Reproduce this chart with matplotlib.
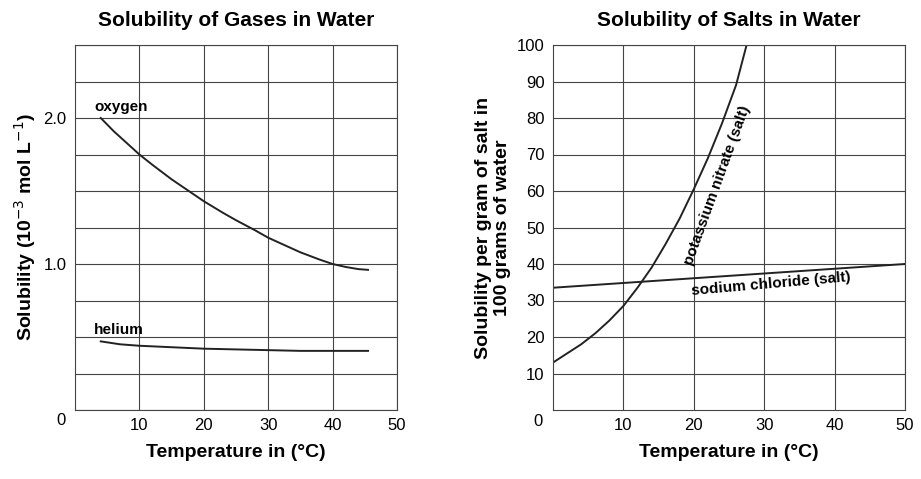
import numpy as np
import matplotlib
matplotlib.use("Agg")
import matplotlib.pyplot as plt

plt.rcParams['font.family'] = ['Liberation Sans', 'DejaVu Sans']

# gases (10^-3 mol/L)
gas_temp = [4, 6, 8, 10, 12, 15, 18, 20, 23, 25, 28, 30, 33, 35, 38, 40, 42, 44, 45.5]
oxygen = [2.0, 1.91, 1.83, 1.75, 1.68, 1.58, 1.49, 1.43, 1.35, 1.30, 1.23, 1.18, 1.12, 1.08, 1.03, 1.00, 0.98, 0.965, 0.96]
helium_temp = [4, 7, 10, 15, 20, 25, 30, 35, 40, 45.5]
helium = [0.47, 0.45, 0.44, 0.43, 0.42, 0.415, 0.41, 0.405, 0.405, 0.405]

# salts (g per 100 g water)
kno3_temp = [0, 2, 4, 6, 8, 10, 12, 14, 16, 18, 20, 22, 24, 26, 27.5]
kno3 = [13, 15.5, 18, 21, 24.5, 28.5, 33.5, 39, 45.5, 52.5, 60.5, 69, 78.5, 89, 100]
nacl_temp = [0, 50]
nacl = [33.5, 40]

fig = plt.figure(figsize=(9.21, 4.79), dpi=100)
ax1 = fig.add_axes([75/921, 1-410/479, 322/921, 365/479])
ax2 = fig.add_axes([553/921, 1-410/479, 352/921, 365/479])

for ax in (ax1, ax2):
    ax.tick_params(length=0, labelsize=12, pad=6)
    for s in ax.spines.values():
        s.set_color('#444444')
    ax.grid(True, color='#444444', lw=0.8)
    ax.set_xlim(0, 50)
    ax.set_xlabel("Temperature in (°C)", fontsize=14, fontweight='bold', labelpad=8)
    ax.set_title(" ", fontsize=15)

# left
ax1.plot(gas_temp, oxygen, color='#222222', lw=1.4)
ax1.plot(helium_temp, helium, color='#222222', lw=1.4)
ax1.set_ylim(0, 2.5)
ax1.set_xticks(range(10, 51, 10))
ax1.set_yticks(np.arange(0, 2.51, 0.25))
ax1.set_yticklabels(['' if v not in (1.0, 2.0) else f"{v:.1f}" for v in np.arange(0, 2.51, 0.25)])
ax1.text(-1.5, -0.02, "0", ha='right', va='top', fontsize=12)
ax1.set_ylabel("Solubility (10$^{-3}$ mol L$^{-1}$)", fontsize=14, fontweight='bold')
ax1.set_title("Solubility of Gases in Water", fontsize=15, fontweight='bold', pad=14)
ax1.text(3, 2.05, "oxygen", fontsize=11, fontweight='bold')
ax1.text(3, 0.52, "helium", fontsize=11, fontweight='bold')

# right
ax2.plot(kno3_temp, kno3, color='#222222', lw=1.4)
ax2.plot(nacl_temp, nacl, color='#222222', lw=1.4)
ax2.set_ylim(0, 100)
ax2.set_xticks(range(10, 51, 10))
ax2.set_yticks(range(10, 101, 10))
ax2.text(-1.5, -1, "0", ha='right', va='top', fontsize=12)
ax2.set_ylabel("Solubility per gram of salt in\n100 grams of water", fontsize=14, fontweight='bold')
ax2.set_title("Solubility of Salts in Water", fontsize=15, fontweight='bold', pad=14)
ax2.text(18.3, 40, "potassium nitrate (salt)", rotation=70, fontsize=11, fontweight='bold')
ax2.text(19.5, 31.5, "sodium chloride (salt)", rotation=5, fontsize=11, fontweight='bold')

fig.savefig("out.png", dpi=100, facecolor='white')
